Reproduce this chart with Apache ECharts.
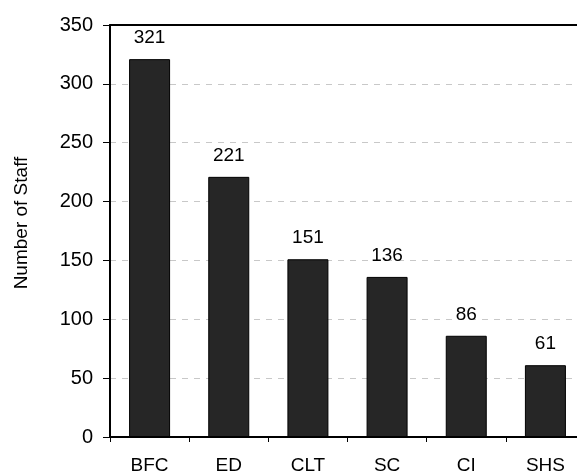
<!DOCTYPE html>
<html>
<head>
<meta charset="utf-8">
<script src="https://cdn.jsdelivr.net/npm/echarts@6/dist/echarts.min.js"></script>
<style>
  html, body { margin: 0; padding: 0; background: #fff; }
  #chart { width: 577px; height: 475px; }
</style>
</head>
<body>
<div id="chart"></div>
<script>
// Staff head-count per unit
const categories = ['BFC', 'ED', 'CLT', 'SC', 'CI', 'SHS'];
const staffCounts = [321, 221, 151, 136, 86, 61];
const yTicks = { min: 0, max: 350, step: 50 };

const FONT = 'Liberation Sans, Arial, sans-serif';
const chart = echarts.init(document.getElementById('chart'), null, { renderer: 'canvas' });

chart.setOption({
  animation: false,
  backgroundColor: '#ffffff',
  grid: {
    left: 110, right: -8, top: 25, bottom: 38,
    containLabel: false,
    outerBoundsMode: 'none'
  },
  xAxis: [
    {
      type: 'category',
      data: categories,
      boundaryGap: true,
      axisLine: { lineStyle: { color: '#000', width: 2 } },
      axisTick: { show: true, length: 5, lineStyle: { color: '#000', width: 1 } },
      axisLabel: { color: '#000', fontFamily: FONT, fontSize: 19, margin: 19 }
    },
    {
      // top border line of the plot frame
      type: 'category',
      position: 'top',
      data: categories,
      axisLine: { show: true, lineStyle: { color: '#000', width: 2 } },
      axisTick: { show: false },
      axisLabel: { show: false }
    }
  ],
  yAxis: {
    type: 'value',
    min: yTicks.min,
    max: yTicks.max,
    interval: yTicks.step,
    axisLine: { show: true, lineStyle: { color: '#000', width: 2 } },
    axisTick: { show: true, length: 7, lineStyle: { color: '#000', width: 1 } },
    axisLabel: { color: '#000', fontFamily: FONT, fontSize: 20, margin: 17 },
    splitLine: { show: true, lineStyle: { color: '#c8c8c8', type: [6, 6], width: 1 } },
    name: 'Number of Staff',
    nameLocation: 'middle',
    nameGap: 79,
    nameRotate: 90,
    nameTextStyle: { color: '#000', fontFamily: FONT, fontSize: 19, padding: [0, 0, 0, 16] }
  },
  series: [{
    type: 'bar',
    data: staffCounts,
    barWidth: 41,
    itemStyle: { color: '#262626', borderColor: '#000', borderWidth: 1 },
    label: {
      show: true,
      position: 'top',
      distance: 12,
      color: '#000',
      fontFamily: FONT,
      fontSize: 19
    }
  }]
});
</script>
</body>
</html>
